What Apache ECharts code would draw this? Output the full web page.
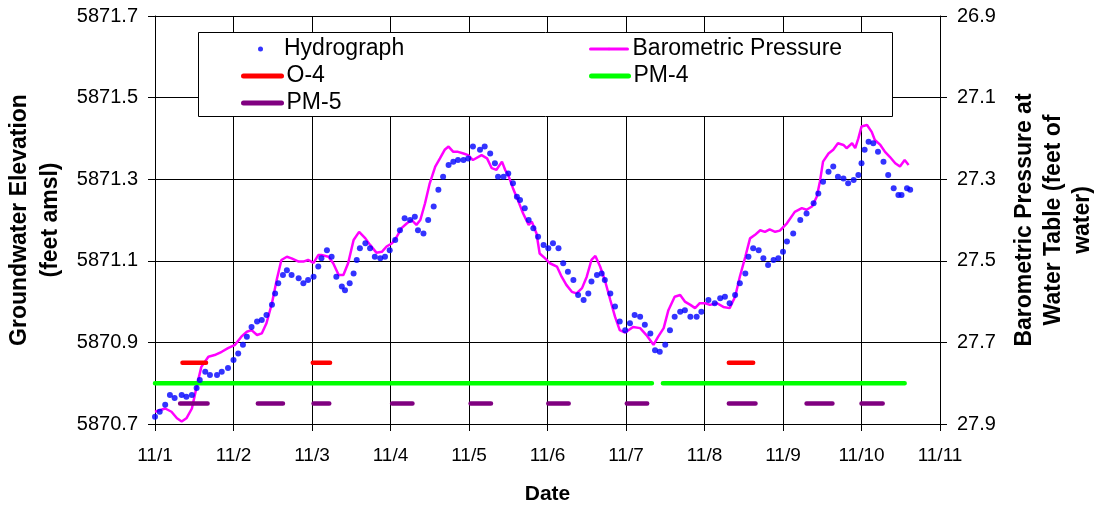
<!DOCTYPE html>
<html>
<head>
<meta charset="utf-8">
<script src="https://cdn.jsdelivr.net/npm/echarts@6/dist/echarts.min.js"></script>
<style>
html,body{margin:0;padding:0;background:#fff;}
#chart{width:1094px;height:507px;}
</style>
</head>
<body>
<div id="chart"></div>
<script>
// ---- Data (x = days since 11/1 00:00) ----
const dateLabels = ['11/1','11/2','11/3','11/4','11/5','11/6','11/7','11/8','11/9','11/10','11/11'];
const leftTicks = ['5870.7','5870.9','5871.1','5871.3','5871.5','5871.7'];
const rightTicks = ['26.9','27.1','27.3','27.5','27.7','27.9'];

const hydroDay = [0.00,0.06,0.13,0.19,0.25,0.34,0.40,0.47,0.53,0.57,0.64,0.70,0.79,0.85,0.93,1.00,1.06,1.12,1.17,1.23,1.30,1.36,1.42,1.49,1.53,1.57,1.63,1.68,1.74,1.83,1.89,1.95,2.02,2.08,2.12,2.19,2.25,2.31,2.38,2.42,2.48,2.53,2.57,2.61,2.68,2.74,2.80,2.87,2.93,2.99,3.06,3.12,3.18,3.25,3.31,3.35,3.42,3.48,3.55,3.61,3.67,3.74,3.80,3.86,3.93,3.99,4.05,4.14,4.20,4.27,4.33,4.37,4.44,4.50,4.56,4.61,4.65,4.71,4.76,4.82,4.88,4.95,5.01,5.07,5.14,5.20,5.26,5.33,5.39,5.46,5.52,5.56,5.63,5.69,5.73,5.80,5.86,5.92,5.99,6.05,6.11,6.18,6.24,6.31,6.37,6.43,6.50,6.56,6.62,6.69,6.75,6.82,6.90,6.96,7.05,7.13,7.20,7.26,7.32,7.39,7.45,7.52,7.56,7.62,7.69,7.75,7.81,7.88,7.94,8.00,8.05,8.13,8.22,8.30,8.39,8.45,8.51,8.58,8.64,8.70,8.77,8.83,8.90,8.96,9.00,9.04,9.09,9.15,9.21,9.28,9.34,9.41,9.47,9.51,9.58,9.62];
const hydroElev = [5870.718,5870.730,5870.747,5870.771,5870.764,5870.771,5870.767,5870.771,5870.788,5870.808,5870.828,5870.820,5870.820,5870.828,5870.837,5870.857,5870.873,5870.894,5870.914,5870.938,5870.951,5870.955,5870.967,5870.992,5871.020,5871.045,5871.065,5871.077,5871.065,5871.057,5871.045,5871.053,5871.061,5871.086,5871.106,5871.126,5871.110,5871.061,5871.037,5871.028,5871.045,5871.069,5871.102,5871.131,5871.143,5871.131,5871.110,5871.106,5871.110,5871.126,5871.151,5871.175,5871.204,5871.200,5871.208,5871.175,5871.167,5871.200,5871.233,5871.274,5871.306,5871.335,5871.343,5871.347,5871.347,5871.351,5871.380,5871.372,5871.380,5871.363,5871.339,5871.306,5871.306,5871.314,5871.290,5871.257,5871.249,5871.229,5871.200,5871.180,5871.159,5871.139,5871.131,5871.143,5871.131,5871.094,5871.073,5871.053,5871.016,5871.004,5871.020,5871.049,5871.065,5871.069,5871.053,5871.020,5870.988,5870.951,5870.930,5870.947,5870.967,5870.963,5870.943,5870.922,5870.881,5870.877,5870.894,5870.930,5870.963,5870.975,5870.979,5870.963,5870.963,5870.975,5871.004,5870.996,5871.008,5871.012,5870.996,5871.016,5871.045,5871.069,5871.110,5871.131,5871.126,5871.106,5871.090,5871.102,5871.106,5871.122,5871.147,5871.167,5871.200,5871.216,5871.241,5871.265,5871.294,5871.318,5871.331,5871.306,5871.302,5871.290,5871.298,5871.310,5871.339,5871.372,5871.392,5871.388,5871.367,5871.343,5871.310,5871.278,5871.261,5871.261,5871.278,5871.274];

const baroDay = [0.00,0.13,0.21,0.28,0.34,0.40,0.47,0.53,0.59,0.68,0.76,0.85,0.93,1.02,1.10,1.17,1.23,1.30,1.36,1.42,1.49,1.55,1.61,1.68,1.74,1.83,1.89,1.95,2.02,2.08,2.12,2.21,2.27,2.34,2.40,2.46,2.53,2.60,2.68,2.74,2.82,2.89,2.95,3.02,3.08,3.14,3.21,3.27,3.33,3.38,3.44,3.50,3.57,3.63,3.69,3.74,3.80,3.86,3.93,3.99,4.05,4.16,4.23,4.29,4.35,4.42,4.46,4.50,4.56,4.63,4.69,4.76,4.80,4.86,4.90,4.97,5.03,5.12,5.18,5.24,5.31,5.37,5.44,5.50,5.56,5.61,5.67,5.73,5.80,5.86,5.92,5.99,6.09,6.18,6.26,6.35,6.41,6.48,6.54,6.62,6.69,6.75,6.82,6.88,6.94,7.01,7.07,7.16,7.24,7.32,7.39,7.45,7.52,7.58,7.64,7.71,7.77,7.83,7.90,7.96,8.05,8.15,8.24,8.30,8.37,8.43,8.47,8.51,8.58,8.64,8.70,8.77,8.81,8.88,8.92,8.96,9.00,9.07,9.13,9.17,9.24,9.30,9.36,9.43,9.49,9.55,9.60];
const baroPress = [27.870,27.862,27.870,27.886,27.894,27.886,27.862,27.809,27.760,27.735,27.731,27.723,27.714,27.706,27.686,27.674,27.670,27.682,27.678,27.653,27.604,27.547,27.498,27.490,27.494,27.502,27.502,27.498,27.505,27.486,27.486,27.490,27.506,27.535,27.535,27.506,27.449,27.429,27.445,27.461,27.480,27.478,27.465,27.457,27.441,27.420,27.408,27.400,27.412,27.400,27.359,27.310,27.269,27.249,27.228,27.220,27.233,27.233,27.237,27.241,27.253,27.241,27.249,27.273,27.277,27.257,27.277,27.290,27.322,27.355,27.384,27.412,27.404,27.433,27.482,27.494,27.506,27.514,27.539,27.559,27.576,27.580,27.567,27.539,27.498,27.488,27.514,27.547,27.596,27.637,27.670,27.676,27.662,27.665,27.682,27.706,27.686,27.665,27.621,27.588,27.584,27.600,27.608,27.616,27.604,27.604,27.608,27.604,27.613,27.616,27.588,27.539,27.490,27.445,27.437,27.425,27.429,27.423,27.429,27.426,27.408,27.380,27.371,27.375,27.367,27.343,27.306,27.257,27.237,27.228,27.212,27.216,27.224,27.212,27.224,27.200,27.171,27.167,27.184,27.204,27.216,27.233,27.245,27.261,27.269,27.253,27.265];

// Pumping periods (start day, end day) drawn at fixed marker levels
const o4Level = 5870.85;
const o4Periods = [[0.35,0.65],[2.01,2.23],[7.31,7.62]];
const pm4Level = 5870.80;
const pm4Periods = [[0.00,6.33],[6.47,9.55]];
const pm5Level = 5870.75;
const pm5Periods = [[0.32,0.67],[1.31,1.63],[2.02,2.22],[3.02,3.28],[4.02,4.28],[5.01,5.27],[6.01,6.27],[7.31,7.65],[8.30,8.63],[9.00,9.27]];

// ---- Build series data ----
function zip(xs, ys){ return xs.map((x,i)=>[x, ys[i]]); }
function segs(periods, level){
  const out = [];
  periods.forEach(p => { out.push([p[0], level]); out.push([p[1], level]); out.push([p[1], '-']); });
  return out;
}

const FONT = "'Liberation Sans', Arial, sans-serif";
const chart = echarts.init(document.getElementById('chart'), null, {renderer:'canvas'});

const legendText = {fontFamily: FONT, fontSize: 23, color: '#000', lineHeight: 24};

chart.setOption({
  animation: false,
  backgroundColor: '#fff',
  textStyle: {fontFamily: FONT},
  grid: {left: 155, right: 154, top: 16, bottom: 83, containLabel: false, outerBoundsMode: 'none'},
  graphic: [{
    type: 'rect', z: 3,
    shape: {x: 198.5, y: 32.5, width: 694, height: 84},
    style: {fill: '#fff', stroke: '#000', lineWidth: 1}
  }],
  legend: [
    {left: 258, top: 37, orient: 'vertical', padding: 0, itemWidth: 37, itemHeight: 5,
     selectedMode: false, textStyle: legendText,
     data: [{name: 'Hydrograph', icon: 'circle'}]},
    {left: 241, top: 64, orient: 'vertical', padding: 0, itemWidth: 38, itemHeight: 5, itemGap: 3,
     selectedMode: false, textStyle: legendText, lineStyle: {width: 5, cap: 'round'},
     data: ['O-4', 'PM-5']},
    {left: 589, top: 37, orient: 'vertical', padding: 0, itemWidth: 37, itemHeight: 3,
     selectedMode: false, textStyle: legendText, lineStyle: {width: 3, cap: 'round'},
     data: ['Barometric Pressure']},
    {left: 589, top: 64, orient: 'vertical', padding: 0, itemWidth: 37, itemHeight: 5,
     selectedMode: false, textStyle: legendText, lineStyle: {width: 5, cap: 'round'},
     data: ['PM-4']}
  ],
  xAxis: {
    type: 'value', min: 0, max: 10, interval: 1,
    name: 'Date', nameLocation: 'middle', nameGap: 60,
    nameTextStyle: {fontFamily: FONT, fontSize: 21, fontWeight: 'bold', color: '#000'},
    axisLine: {show: true, lineStyle: {color: '#000', width: 1}},
    axisTick: {show: true, inside: false, length: 7, lineStyle: {color: '#000'}},
    axisLabel: {margin: 22, fontSize: 19, color: '#000', fontFamily: FONT,
      formatter: v => dateLabels[Math.round(v)]},
    splitLine: {show: true, lineStyle: {color: '#000', width: 1}}
  },
  yAxis: [
    {
      type: 'value', position: 'left', min: 5870.7, max: 5871.7, interval: 0.2,
      name: 'Groundwater Elevation\n(feet amsl)', nameLocation: 'middle', nameRotate: 90, nameGap: 86,
      nameTextStyle: {fontFamily: FONT, fontSize: 23, fontWeight: 'bold', color: '#000', lineHeight: 31, align: 'center'},
      axisLine: {show: true, lineStyle: {color: '#000', width: 1}},
      axisTick: {show: true, inside: false, length: 7, lineStyle: {color: '#000'}},
      axisLabel: {margin: 17, fontSize: 20, color: '#000', fontFamily: FONT,
        formatter: (v) => leftTicks[Math.round((v - 5870.7) / 0.2)]},
      splitLine: {show: true, lineStyle: {color: '#000', width: 1}}
    },
    {
      type: 'value', position: 'right', min: 26.9, max: 27.9, interval: 0.2, inverse: true,
      name: 'Barometric Pressure at\nWater Table (feet of\nwater)', nameLocation: 'middle', nameRotate: 90, nameGap: 70,
      nameTextStyle: {fontFamily: FONT, fontSize: 23, fontWeight: 'bold', color: '#000', lineHeight: 29, align: 'center'},
      axisLine: {show: true, lineStyle: {color: '#000', width: 1}},
      axisTick: {show: true, inside: false, length: 7, lineStyle: {color: '#000'}},
      axisLabel: {margin: 17, fontSize: 20, color: '#000', fontFamily: FONT,
        formatter: (v) => rightTicks[Math.round((v - 26.9) / 0.2)]},
      splitLine: {show: false}
    }
  ],
  series: [
    {name: 'Hydrograph', type: 'scatter', yAxisIndex: 0, symbol: 'circle', symbolSize: 6,
     itemStyle: {color: '#0000FF'}, data: zip(hydroDay, hydroElev), z: 2},
    {name: 'Barometric Pressure', type: 'line', yAxisIndex: 1, symbol: 'none', smooth: false,
     lineStyle: {color: '#FF00FF', width: 2.5}, itemStyle: {color: '#FF00FF'},
     data: zip(baroDay, baroPress), z: 2},
    {name: 'O-4', type: 'line', yAxisIndex: 0, symbol: 'none', connectNulls: false,
     lineStyle: {color: '#FF0000', width: 4.5, cap: 'round'}, itemStyle: {color: '#FF0000'},
     data: segs(o4Periods, o4Level), z: 2},
    {name: 'PM-4', type: 'line', yAxisIndex: 0, symbol: 'none', connectNulls: false,
     lineStyle: {color: '#00FF00', width: 4.5, cap: 'round'}, itemStyle: {color: '#00FF00'},
     data: segs(pm4Periods, pm4Level), z: 2},
    {name: 'PM-5', type: 'line', yAxisIndex: 0, symbol: 'none', connectNulls: false,
     lineStyle: {color: '#800080', width: 4.5, cap: 'round'}, itemStyle: {color: '#800080'},
     data: segs(pm5Periods, pm5Level), z: 2}
  ]
});
</script>
</body>
</html>
